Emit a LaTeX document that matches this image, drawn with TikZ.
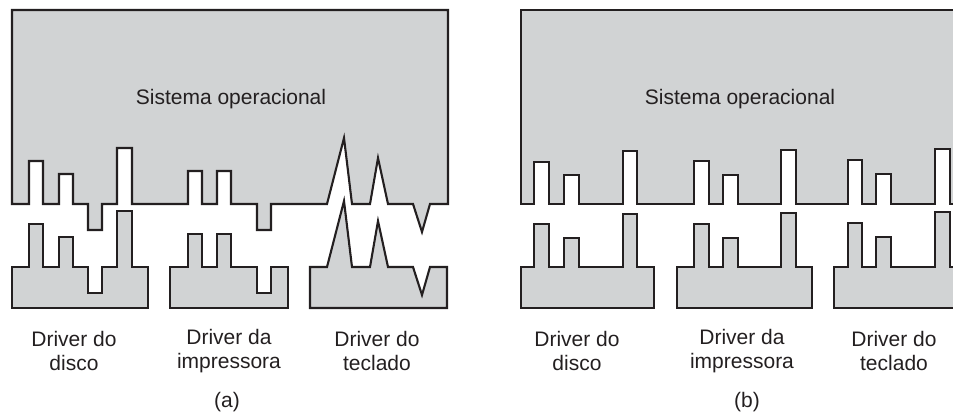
\documentclass[tikz,border=0pt]{standalone}
\usepackage{fontspec}
\setmainfont{Liberation Sans}
\definecolor{shade}{HTML}{D1D3D4}
\definecolor{ink}{HTML}{231F20}
\tikzset{
  part/.style={fill=shade, draw=ink, line width=2.1pt, line join=miter},
  lbl/.style={text=ink, font=\fontsize{21}{24}\selectfont, align=center, inner sep=0pt},
}
\begin{document}
\begin{tikzpicture}[x=1pt,y=-1pt]
\useasboundingbox (0,0) rectangle (953,414);
\clip (0,0) rectangle (953,414);
% ---------- panel (a) ----------
\draw[part] (12,10) -- (448,10) -- (448,204) -- (430,204) -- (422,232) -- (413,204)
  -- (388,204) -- (378,158) -- (370,204) -- (352,204) -- (344,138) -- (327,204)
  -- (271,204) -- (271,230) -- (257,230) -- (257,204)
  -- (231,204) -- (231,171) -- (217,171) -- (217,204)
  -- (202,204) -- (202,171) -- (188,171) -- (188,204)
  -- (132,204) -- (132,148) -- (117,148) -- (117,204)
  -- (102,204) -- (102,230) -- (88,230) -- (88,204)
  -- (73,204) -- (73,174) -- (59,174) -- (59,204)
  -- (43,204) -- (43,161) -- (29,161) -- (29,204) -- (12,204) -- cycle;
\draw[part] (12,308) -- (12,267) -- (29,267) -- (29,224) -- (43,224) -- (43,267)
  -- (59,267) -- (59,237) -- (73,237) -- (73,267) -- (88,267) -- (88,293)
  -- (102,293) -- (102,267) -- (117,267) -- (117,211) -- (132,211) -- (132,267)
  -- (148,267) -- (148,308) -- cycle;
\draw[part] (170,308) -- (170,267) -- (188,267) -- (188,234) -- (202,234) -- (202,267)
  -- (217,267) -- (217,234) -- (231,234) -- (231,267) -- (257,267) -- (257,293)
  -- (271,293) -- (271,267) -- (288,267) -- (288,308) -- cycle;
\draw[part] (310,308) -- (310,267) -- (327,267) -- (344,201) -- (352,267) -- (370,267)
  -- (378,221) -- (388,267) -- (413,267) -- (422,295) -- (430,267) -- (447,267)
  -- (447,308) -- cycle;
\node[lbl] (osa) at (231,99) {Sistema operacional};
\node[lbl] (da1) at (74,351) {Driver do\\disco};
\node[lbl] (da2) at (229,351) {Driver da\\impressora};
\node[lbl] (da3) at (377,351) {Driver do\\teclado};
\node[lbl] (capa) at (227,402) {(a)};
% ---------- panel (b) ----------
\draw[part] (521,10) -- (965,10) -- (965,204)
  -- (950,204) -- (950,149) -- (935,149) -- (935,204)
  -- (891,204) -- (891,174) -- (876,174) -- (876,204)
  -- (862,204) -- (862,160) -- (848,160) -- (848,204)
  -- (796,204) -- (796,150) -- (781,150) -- (781,204)
  -- (738,204) -- (738,175) -- (723,175) -- (723,204)
  -- (709,204) -- (709,161) -- (694,161) -- (694,204)
  -- (637,204) -- (637,151) -- (623,151) -- (623,204)
  -- (579,204) -- (579,175) -- (564,175) -- (564,204)
  -- (549,204) -- (549,162) -- (534,162) -- (534,204)
  -- (521,204) -- cycle;
\draw[part] (521,308) -- (521,267) -- (534,267) -- (534,224) -- (549,224) -- (549,267)
  -- (564,267) -- (564,238) -- (579,238) -- (579,267) -- (623,267) -- (623,214)
  -- (637,214) -- (637,267) -- (654,267) -- (654,308) -- cycle;
\draw[part] (677,308) -- (677,267) -- (694,267) -- (694,224) -- (709,224) -- (709,267)
  -- (723,267) -- (723,238) -- (738,238) -- (738,267) -- (781,267) -- (781,213)
  -- (796,213) -- (796,267) -- (812,267) -- (812,308) -- cycle;
\draw[part] (834,308) -- (834,267) -- (848,267) -- (848,223) -- (862,223) -- (862,267)
  -- (876,267) -- (876,237) -- (891,237) -- (891,267) -- (935,267) -- (935,212)
  -- (950,212) -- (950,267) -- (968,267) -- (968,308) -- cycle;
\node[lbl] (osb) at (740,99) {Sistema operacional};
\node[lbl] (db1) at (577,351) {Driver do\\disco};
\node[lbl] (db2) at (742,351) {Driver da\\impressora};
\node[lbl] (db3) at (894,351) {Driver do\\teclado};
\node[lbl] (capb) at (747,402) {(b)};
\end{tikzpicture}
\end{document}
